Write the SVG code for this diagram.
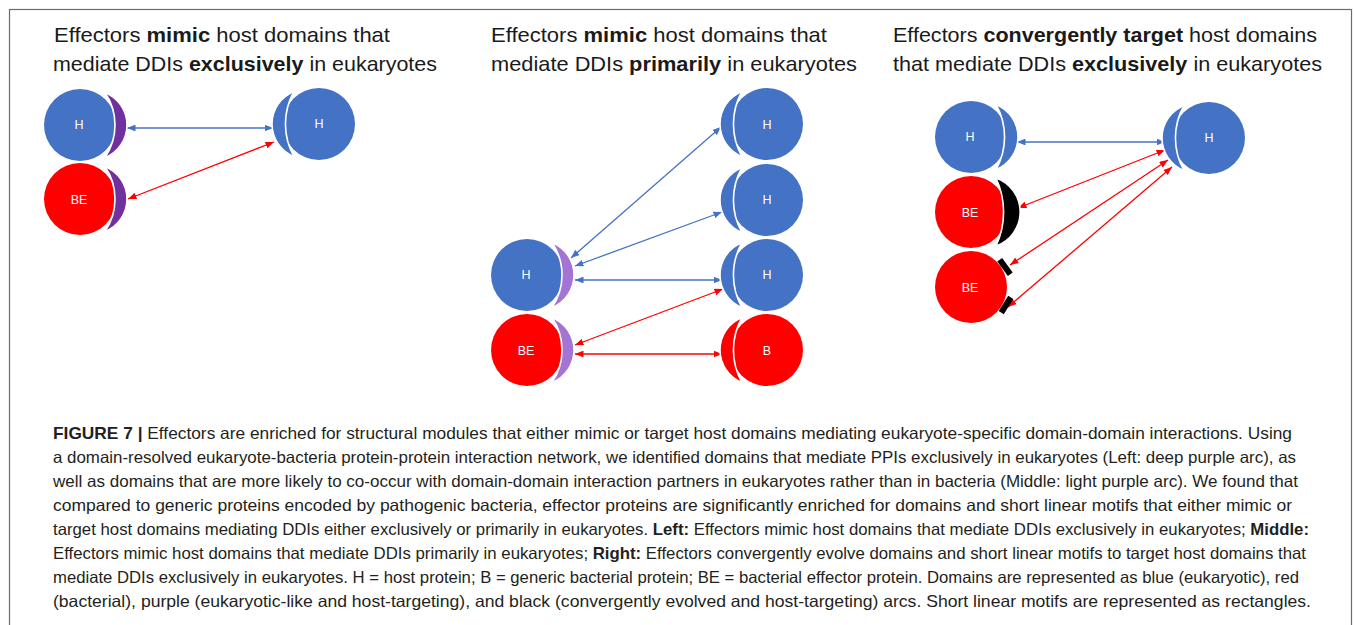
<svg xmlns="http://www.w3.org/2000/svg" xmlns:xlink="http://www.w3.org/1999/xlink" width="1355" height="625" viewBox="0 0 1355 625">
<style>
.title{font-family:"Liberation Sans",Arial,sans-serif;font-size:21px;fill:#1a1a1a}
.b{font-weight:bold}
.cap{font-family:"Liberation Sans",Arial,sans-serif;font-size:16.5px;fill:#231f20}
.lbl{font-family:"Liberation Sans",Arial,sans-serif;font-size:12.5px;fill:#ffffff;text-anchor:middle;dominant-baseline:central}
.blue{fill:#4472C4}
.red{fill:#FF0000}
.moon{stroke:#ffffff;stroke-width:1.6}
.dp{fill:#7030A0}
.lp{fill:#A474D4}
.blk{fill:#000000}
.cb{stroke:#4472C4;stroke-width:1.3;fill:none;marker-start:url(#ab);marker-end:url(#ab)}
.cr{stroke:#FF0000;stroke-width:1.3;fill:none;marker-start:url(#ar);marker-end:url(#ar)}
</style>
<defs>
<marker id="ab" viewBox="0 0 10 8" refX="10" refY="4" markerWidth="8.5" markerHeight="6.8" markerUnits="userSpaceOnUse" orient="auto-start-reverse"><path d="M0,0L10,4L0,8z" fill="#4472C4"/></marker>
<marker id="ar" viewBox="0 0 10 8" refX="10" refY="4" markerWidth="8.5" markerHeight="6.8" markerUnits="userSpaceOnUse" orient="auto-start-reverse"><path d="M0,0L10,4L0,8z" fill="#FF0000"/></marker>
<path id="moonR" d="M25,-32.5A35,35 0 0 1 25,32.5A57.8,57.8 0 0 0 25,-32.5Z"/>
<path id="moonT" d="M25,-32.5A35,35 0 0 1 25,32.5A66,66 0 0 0 25,-32.5Z"/>
<path id="moonK" d="M25,-34A36,36 0 0 1 25,34A80,80 0 0 0 25,-34Z"/>
</defs>
<rect x="9.5" y="9.5" width="1342" height="640" fill="#ffffff" stroke="#6b6b6b" stroke-width="1.2"/>

<!-- titles -->
<text class="title" x="54" y="42" textLength="336" lengthAdjust="spacingAndGlyphs">Effectors <tspan class="b">mimic</tspan> host domains that</text>
<text class="title" x="53" y="71" textLength="384" lengthAdjust="spacingAndGlyphs">mediate DDIs <tspan class="b">exclusively</tspan> in eukaryotes</text>
<text class="title" x="491" y="42" textLength="336" lengthAdjust="spacingAndGlyphs">Effectors <tspan class="b">mimic</tspan> host domains that</text>
<text class="title" x="491" y="71" textLength="366" lengthAdjust="spacingAndGlyphs">mediate DDIs <tspan class="b">primarily</tspan> in eukaryotes</text>
<text class="title" x="893" y="42" textLength="424" lengthAdjust="spacingAndGlyphs">Effectors <tspan class="b">convergently target</tspan> host domains</text>
<text class="title" x="893" y="71" textLength="429" lengthAdjust="spacingAndGlyphs">that mediate DDIs <tspan class="b">exclusively</tspan> in eukaryotes</text>

<!-- connectors -->
<g id="connectors">
<line class="cb" x1="127" y1="128" x2="273" y2="128"/>
<line class="cr" x1="128" y1="199" x2="274" y2="142"/>
<line class="cb" x1="571" y1="258" x2="721" y2="127"/>
<line class="cb" x1="575" y1="266" x2="722" y2="212"/>
<line class="cb" x1="575" y1="280" x2="722" y2="280"/>
<line class="cr" x1="575" y1="345" x2="723" y2="289"/>
<line class="cr" x1="575" y1="354" x2="722" y2="354"/>
<line class="cb" x1="1017" y1="142" x2="1165" y2="142"/>
<line class="cr" x1="1018" y1="208" x2="1165" y2="150"/>
<line class="cr" x1="1010" y1="265" x2="1168" y2="160"/>
<line class="cr" x1="1008" y1="307" x2="1172" y2="167"/>
</g>

<!-- left panel -->
<g id="L_H1" transform="translate(80,125)"><circle r="36" class="blue"/><use xlink:href="#moonR" class="moon dp"/><text class="lbl" x="-1" y="0">H</text></g>
<g id="L_BE" transform="translate(80,199)"><circle r="36" class="red"/><use xlink:href="#moonR" class="moon dp"/><text class="lbl" x="-1" y="1">BE</text></g>
<g id="L_H2" transform="translate(319,124)"><circle r="36" class="blue"/><use xlink:href="#moonT" class="moon blue" transform="scale(-1,1)"/><text class="lbl" x="0" y="0">H</text></g>

<!-- middle panel -->
<g id="M_H1" transform="translate(767,124)"><circle r="36" class="blue"/><use xlink:href="#moonT" class="moon blue" transform="scale(-1,1)"/><text class="lbl" x="0" y="1">H</text></g>
<g id="M_H2" transform="translate(767,200)"><circle r="36" class="blue"/><use xlink:href="#moonT" class="moon blue" transform="scale(-1,1)"/><text class="lbl" x="0" y="0">H</text></g>
<g id="M_H3" transform="translate(767,275)"><circle r="36" class="blue"/><use xlink:href="#moonT" class="moon blue" transform="scale(-1,1)"/><text class="lbl" x="0" y="0">H</text></g>
<g id="M_B" transform="translate(767,350)"><circle r="36" class="red"/><use xlink:href="#moonT" class="moon red" transform="scale(-1,1)"/><text class="lbl" x="0" y="1">B</text></g>
<g id="M_Hl" transform="translate(527,275)"><circle r="36" class="blue"/><use xlink:href="#moonR" class="moon lp"/><text class="lbl" x="-1" y="0">H</text></g>
<g id="M_BE" transform="translate(527,350)"><circle r="36" class="red"/><use xlink:href="#moonR" class="moon lp"/><text class="lbl" x="-1" y="1">BE</text></g>

<!-- right panel -->
<g id="R_H1" transform="translate(971,137)"><circle r="36" class="blue"/><use xlink:href="#moonT" class="moon blue"/><text class="lbl" x="-1" y="0">H</text></g>
<g id="R_H2" transform="translate(1209,138)"><circle r="36" class="blue"/><use xlink:href="#moonT" class="moon blue" transform="scale(-1,1)"/><text class="lbl" x="0" y="0">H</text></g>
<g id="R_BE1" transform="translate(971,212)"><circle r="36" class="red"/><use xlink:href="#moonK" class="moon blk"/><text class="lbl" x="-1" y="1">BE</text></g>
<g id="R_BE2" transform="translate(971,287)"><circle r="36" class="red"/><rect x="-9" y="-3" width="18" height="6" class="blk" transform="translate(34,-20) rotate(54)"/><rect x="-9" y="-3" width="18" height="6" class="blk" transform="translate(35,18) rotate(-58)"/><text class="lbl" x="-1" y="1">BE</text></g>

<!-- caption -->
<g id="caption">
<text class="cap" x="53" y="439" textLength="1239" lengthAdjust="spacingAndGlyphs"><tspan class="b">FIGURE 7 |</tspan> Effectors are enriched for structural modules that either mimic or target host domains mediating eukaryote-specific domain-domain interactions. Using</text>
<text class="cap" x="53" y="463" textLength="1243" lengthAdjust="spacingAndGlyphs">a domain-resolved eukaryote-bacteria protein-protein interaction network, we identified domains that mediate PPIs exclusively in eukaryotes (Left: deep purple arc), as</text>
<text class="cap" x="53" y="487" textLength="1245" lengthAdjust="spacingAndGlyphs">well as domains that are more likely to co-occur with domain-domain interaction partners in eukaryotes rather than in bacteria (Middle: light purple arc). We found that</text>
<text class="cap" x="53" y="511" textLength="1239" lengthAdjust="spacingAndGlyphs">compared to generic proteins encoded by pathogenic bacteria, effector proteins are significantly enriched for domains and short linear motifs that either mimic or</text>
<text class="cap" x="53" y="535" textLength="1256" lengthAdjust="spacingAndGlyphs">target host domains mediating DDIs either exclusively or primarily in eukaryotes. <tspan class="b">Left:</tspan> Effectors mimic host domains that mediate DDIs exclusively in eukaryotes; <tspan class="b">Middle:</tspan></text>
<text class="cap" x="53" y="559" textLength="1253" lengthAdjust="spacingAndGlyphs">Effectors mimic host domains that mediate DDIs primarily in eukaryotes; <tspan class="b">Right:</tspan> Effectors convergently evolve domains and short linear motifs to target host domains that</text>
<text class="cap" x="53" y="583" textLength="1246" lengthAdjust="spacingAndGlyphs">mediate DDIs exclusively in eukaryotes. H = host protein; B = generic bacterial protein; BE = bacterial effector protein. Domains are represented as blue (eukaryotic), red</text>
<text class="cap" x="53" y="607" textLength="1258" lengthAdjust="spacingAndGlyphs">(bacterial), purple (eukaryotic-like and host-targeting), and black (convergently evolved and host-targeting) arcs. Short linear motifs are represented as rectangles.</text>
</g>
</svg>
